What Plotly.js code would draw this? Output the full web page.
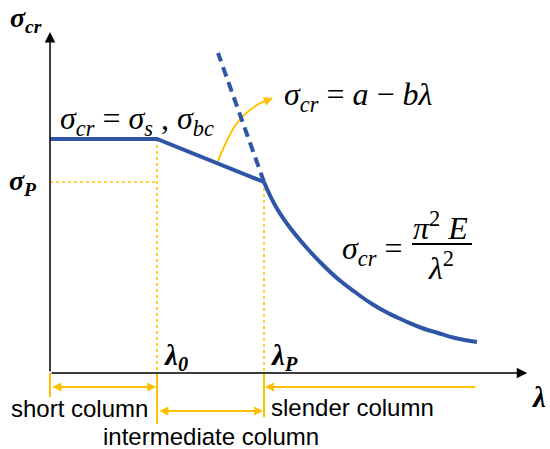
<!DOCTYPE html>
<html><head><meta charset="utf-8">
<script src="https://cdn.plot.ly/plotly-3.0.1.min.js"></script>
<style>html,body{margin:0;padding:0;background:#fff;}#chart{width:550px;height:449px;}</style>
</head><body><div id="chart"></div>
<script>
// Key values (slenderness λ, critical stress σ in arbitrary units)
const lambda0 = 50;
const lambdaP = 100;
const lambdaAxisEnd = 223;
const sigmaAxisEnd = 341;
const sigmaS = 234;
const sigmaP = 191;

// Piecewise blue curve: plateau + linear part
const lambdaLinear = [0, lambda0, lambdaP];
const sigmaLinear = [sigmaS, sigmaS, sigmaP];

// Euler hyperbola part
const lambdaEuler = [100, 105.1, 111.2, 119.2, 127.1, 134.6, 142.5, 150.5, 157.9, 165.9, 173.8, 181.3, 189.3, 199.5];
const sigmaEuler  = [191, 168, 148, 127, 109, 94, 81, 69, 60, 52, 45, 40, 35, 31];

// Dashed extension of Euler curve
const lambdaDashed = [100, 78.5];
const sigmaDashed = [191, 320];

// Curved pointer to the linear formula
const lambdaPointer = [78.5, 87.4, 96.7, 103.5];
const sigmaPointer = [212, 250, 268, 274.5];

// Range limits for column types
const slenderEnd = 199.5;

const BLUE = '#2F56A6';
const GOLD = '#FFC000';
const SERIF = 'Liberation Serif, Times New Roman, serif';
const SANS = 'Liberation Sans, Arial, sans-serif';

const traces = [
  {x: [0, lambda0], y: [sigmaP, sigmaP], mode: 'lines', line: {color: GOLD, width: 1.6, dash: 'dot'}},
  {x: [lambda0, lambda0], y: [sigmaS, 0], mode: 'lines', line: {color: GOLD, width: 1.6, dash: 'dot'}},
  {x: [lambdaP, lambdaP], y: [sigmaP, 0], mode: 'lines', line: {color: GOLD, width: 1.6, dash: 'dot'}},
  {x: [0, 0], y: [0, -24], mode: 'lines', line: {color: GOLD, width: 2}},
  {x: [lambda0, lambda0], y: [0, -51], mode: 'lines', line: {color: GOLD, width: 2}},
  {x: [lambdaP, lambdaP], y: [0, -44], mode: 'lines', line: {color: GOLD, width: 2}},
  {x: lambdaPointer, y: sigmaPointer, mode: 'lines', line: {color: GOLD, width: 2, shape: 'spline'}},
  {x: lambdaDashed, y: sigmaDashed, mode: 'lines', line: {color: BLUE, width: 4, dash: '10px,6px'}},
  {x: lambdaLinear, y: sigmaLinear, mode: 'lines', line: {color: BLUE, width: 4}},
  {x: lambdaEuler, y: sigmaEuler, mode: 'lines', line: {color: BLUE, width: 4, shape: 'spline', smoothing: 1.2}}
];

function P(px) { return px / 550; }
function Q(py) { return 1 - py / 449; }

function txt(text, px, py, size, family, extra) {
  return Object.assign({
    text: text, xref: 'paper', yref: 'paper', x: P(px), y: Q(py),
    xanchor: 'center', yanchor: 'middle', showarrow: false,
    font: {family: family, size: size, color: '#000'}
  }, extra || {});
}

function arrow(xh, yh, xt, yt, color, width, size, both) {
  const a = {
    x: xh, y: yh, ax: xt, ay: yt, xref: 'x', yref: 'y', axref: 'x', ayref: 'y',
    text: '', showarrow: true, arrowhead: 2, arrowsize: size, arrowwidth: width,
    arrowcolor: color, standoff: 0, startstandoff: 0
  };
  if (both) { a.arrowside = 'end+start'; a.startarrowhead = 2; a.startarrowsize = size; }
  return a;
}

const annotations = [
  arrow(lambdaAxisEnd, 0, 0, 0, '#000', 1.5, 1.4),
  arrow(0, sigmaAxisEnd, 0, 0, '#000', 1.5, 1.4),
  arrow(lambda0 - 0.4, -14, 0.4, -14, GOLD, 2, 0.9, true),
  arrow(lambdaP - 0.4, -38, lambda0 + 0.4, -38, GOLD, 2, 0.9, true),
  arrow(lambdaP + 0.4, -14, slenderEnd, -14, GOLD, 2, 0.9),
  {x: 104.2, y: 275, ax: -10, ay: 4, xref: 'x', yref: 'y', text: '', showarrow: true,
   arrowhead: 2, arrowsize: 0.9, arrowwidth: 2, arrowcolor: GOLD, standoff: 0},

  txt('<b><i>σ<sub>cr</sub></i></b>', 26, 20, 28, SERIF),
  txt('<b><i>σ<sub>P</sub></i></b>', 23, 182, 28, SERIF),
  txt('<b><i>λ<sub>0</sub></i></b>', 176, 357, 29, SERIF),
  txt('<b><i>λ<sub>P</sub></i></b>', 284, 357, 29, SERIF),
  txt('<b><i>λ</i></b>', 539, 397, 29, SERIF),

  txt('<i>σ<sub>cr</sub></i> = <i>σ<sub>s</sub></i> , <i>σ<sub>bc</sub></i>', 137, 120, 32, SERIF),
  txt('<i>σ<sub>cr</sub></i> = <i>a</i> − <i>bλ</i>', 358, 97, 32, SERIF),
  txt('<i>σ<sub>cr</sub></i> =', 372, 250, 32, SERIF),
  txt('<i>π</i><sup>2</sup> <i>E</i>', 441, 226, 32, SERIF),
  txt('<i>λ</i><sup>2</sup>', 441, 266, 32, SERIF),

  txt('short column', 79, 408, 24, SANS),
  txt('slender column', 352, 407, 24, SANS),
  txt('intermediate column', 211, 436, 24, SANS)
];

const shapes = [
  {type: 'line', xref: 'paper', yref: 'paper', x0: P(412), x1: P(472), y0: Q(244), y1: Q(244),
   line: {color: '#000', width: 2}}
];

const layout = {
  width: 550, height: 449,
  margin: {l: 0, r: 0, t: 0, b: 0, pad: 0},
  paper_bgcolor: '#fff', plot_bgcolor: '#fff',
  showlegend: false,
  xaxis: {range: [-50 / 2.14, 500 / 2.14], visible: false, fixedrange: true},
  yaxis: {range: [-76, 373], visible: false, fixedrange: true},
  annotations: annotations,
  shapes: shapes
};

Plotly.newPlot('chart', traces, layout, {staticPlot: true, displayModeBar: false});
</script>
</body></html>
